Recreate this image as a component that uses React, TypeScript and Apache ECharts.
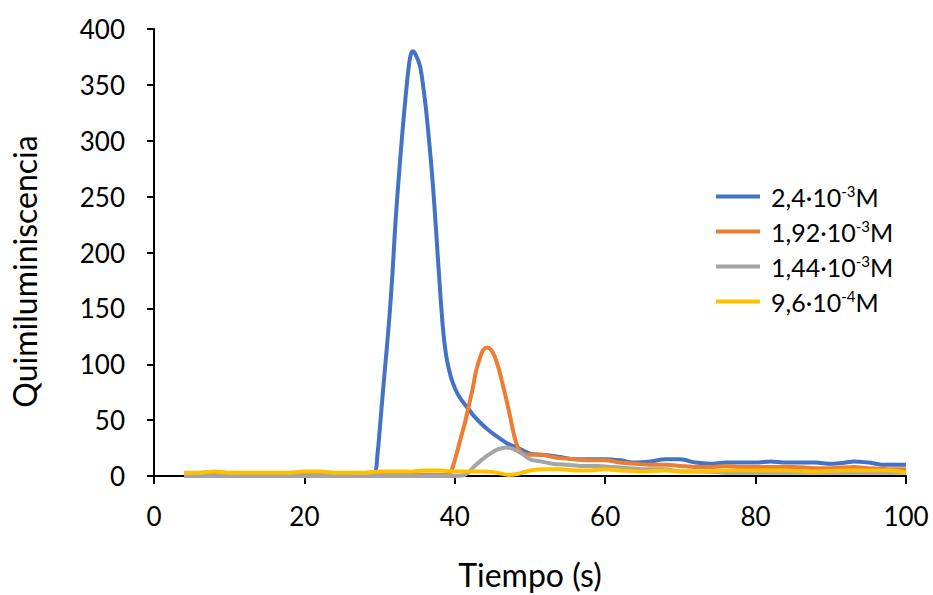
import React, { useEffect, useRef } from "react";
import * as echarts from "echarts";

const seriesNames = ["2,4·10{sup|-3}M", "1,92·10{sup|-3}M", "1,44·10{sup|-3}M", "9,6·10{sup|-4}M"];
const seriesColors = ["#4472C4", "#ED7D31", "#A5A5A5", "#FFC000"];

const blue: [number, number][] = [
  [4, 0], [10, 0], [20, 0], [28, 0], [29.3, 1], [29.7, 18], [30.1, 48], [30.5, 80], [30.9, 110],
  [31.3, 142], [31.7, 180], [32, 215], [32.3, 245], [32.7, 280], [33, 305], [33.4, 335], [33.8, 362],
  [34.1, 376], [34.4, 380], [34.8, 377], [35.4, 366], [36, 338], [36.4, 313], [36.9, 276], [37.2, 250],
  [37.5, 221], [37.9, 180], [38.4, 134], [38.8, 110], [39.2, 96], [39.7, 84], [40.4, 73], [41, 67],
  [41.7, 61], [42.5, 54], [43.5, 47], [44.5, 41], [45.7, 35], [47, 29], [48.4, 25], [50, 20],
  [51.5, 19], [53, 18], [54, 17], [56, 15], [58, 15], [60, 15], [62, 14], [64, 12], [66, 13],
  [68, 15], [70, 15], [72, 12], [74, 11], [76, 12], [78, 12], [80, 12], [82, 13], [84, 12], [86, 12],
  [88, 12], [90, 11], [92, 12], [93, 13], [95, 12], [97, 10], [100, 10],
];

const orange: [number, number][] = [
  [4, 1], [20, 1], [39, 1], [39.5, 4], [40.2, 19], [40.8, 34], [41.4, 49], [41.9, 64], [42.4, 79],
  [42.8, 93], [43.4, 107], [43.8, 113], [44.3, 115], [44.8, 113], [45.3, 107], [45.8, 97], [46.3, 84],
  [46.8, 70], [47.3, 55], [47.7, 42], [48.1, 31], [48.5, 24], [49, 20.5], [49.7, 19], [51.5, 19],
  [53, 17], [54, 16], [56, 15], [58, 14], [60, 14], [62, 12], [64, 11], [66, 10], [68, 10], [70, 9],
  [72, 8], [74, 8], [76, 9], [78, 8], [80, 8], [85, 8], [88, 7], [90, 7], [93, 8], [95, 7], [98, 6],
  [100, 6],
];

const gray: [number, number][] = [
  [4, 0], [20, 0], [38, 0], [41, 0.5], [41.8, 3], [42.6, 8.6], [43.5, 14], [44.8, 20.5], [45.8, 24],
  [46.8, 25.6], [47.8, 24], [48.8, 20.5], [50.1, 14.6], [51.5, 13], [53, 11], [55, 10], [57, 9],
  [59, 9], [61, 8], [63, 7], [65, 6], [68, 6], [70, 4], [73, 4], [76, 3], [80, 3], [85, 3], [90, 3],
  [95, 3], [100, 3],
];

const yellow: [number, number][] = [
  [4, 3], [6, 3], [8, 4], [10, 3], [12, 3], [14, 3], [16, 3], [18, 3], [20, 4], [22, 4], [24, 3],
  [26, 3], [28, 3], [30, 4], [32, 4], [34, 4], [36, 5], [38, 5], [40, 4], [42, 4], [44, 4], [45.5, 3],
  [47.2, 1], [48.5, 2], [50, 5], [52, 6], [54, 6], [56, 5], [58, 5], [60, 6], [62, 5], [65, 4],
  [68, 5], [70, 4], [73, 4], [76, 5], [80, 5], [84, 5], [88, 4], [92, 5], [95, 5], [98, 5], [100, 3],
];

const seriesData = [blue, orange, gray, yellow];

const FONT = "Lato";

export default function App() {
  const ref = useRef<HTMLDivElement>(null);
  useEffect(() => {
    if (!ref.current) return;
    const chart = echarts.init(ref.current, null, { renderer: "svg" });
    chart.setOption({
      animation: false,
      textStyle: { fontFamily: FONT },
      grid: { left: 152, right: 27, top: 29, bottom: 117 },
      xAxis: {
        type: "value",
        min: 0,
        max: 100,
        interval: 20,
        name: "Tiempo (s)",
        nameLocation: "middle",
        nameGap: 82,
        nameTextStyle: { fontFamily: FONT, fontSize: 32, color: "#000" },
        axisLine: { lineStyle: { color: "#000", width: 2 } },
        axisTick: { show: true, length: 8, lineStyle: { color: "#000", width: 2 } },
        axisLabel: { fontFamily: FONT, fontSize: 26, color: "#000", margin: 27 },
        splitLine: { show: false },
      },
      yAxis: {
        type: "value",
        min: 0,
        max: 400,
        interval: 50,
        name: "Quimiluminiscencia",
        nameLocation: "middle",
        nameGap: 114,
        nameTextStyle: { fontFamily: FONT, fontSize: 32, color: "#000", padding: [0, 38, 0, 0] },
        axisLine: { show: true, lineStyle: { color: "#000", width: 2 } },
        axisTick: { show: true, length: 7, lineStyle: { color: "#000", width: 2 } },
        axisLabel: { fontFamily: FONT, fontSize: 26, color: "#000", margin: 29 },
        splitLine: { show: false },
      },
      legend: {
        orient: "vertical",
        left: 711,
        top: 178,
        icon: "rect",
        itemWidth: 44,
        itemHeight: 4,
        itemGap: 9,
        textStyle: {
          fontFamily: FONT,
          fontSize: 25,
          color: "#000",
          padding: [0, 0, 0, 6],
          rich: {
            sup: { fontFamily: FONT, fontSize: 15, color: "#000", verticalAlign: "top", padding: [0, 0, 12, 0] },
          },
        },
        data: seriesNames,
      },
      series: seriesData.map((d, i) => ({
        name: seriesNames[i],
        type: "line",
        data: d,
        smooth: 0.3,
        symbol: "none",
        color: seriesColors[i],
        lineStyle: { color: seriesColors[i], width: 4 },
      })),
    });
    return () => chart.dispose();
  }, []);
  return <div ref={ref} style={{ width: 933, height: 595, position: "absolute", left: 0, top: 0 }} />;
}
